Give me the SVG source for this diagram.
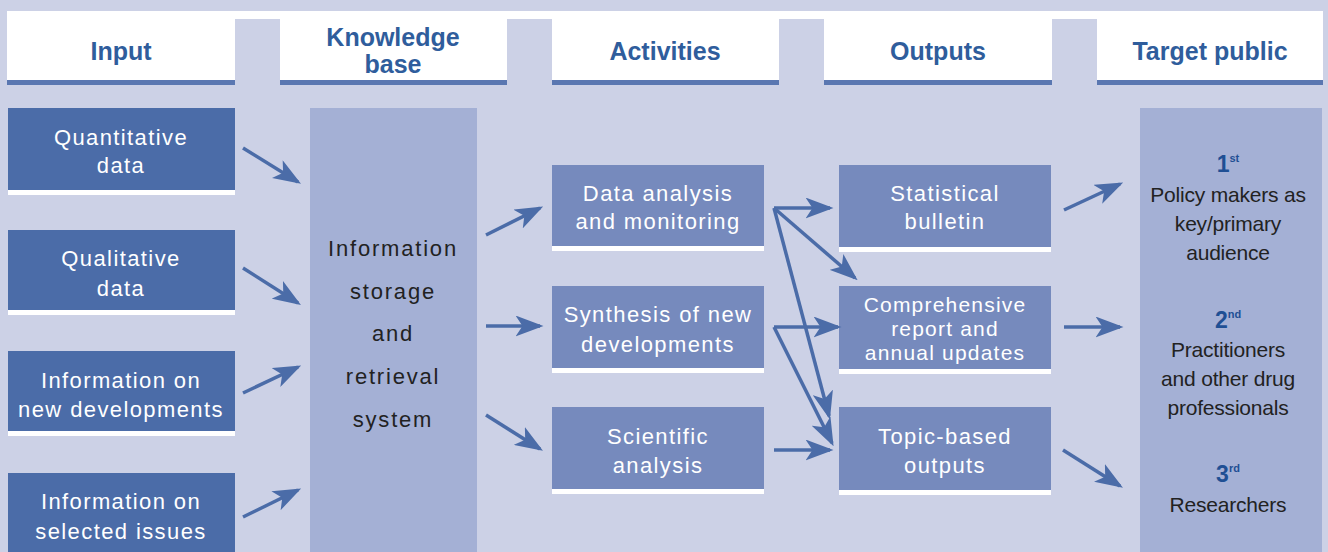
<svg xmlns="http://www.w3.org/2000/svg" width="1328" height="552" viewBox="0 0 1328 552">
<defs>
<style>
.hdr{fill:#fff}
.stripe{fill:#5a77b1}
.ht{font-family:"Liberation Sans",Arial,sans-serif;font-weight:bold;font-size:25px;fill:#2f5d9c;text-anchor:middle}
.inbox{fill:#4b6ca8}
.midbox{fill:#768abd}
.light{fill:#a4b0d5}
.ws{fill:#fff}
.bt{font-family:"Liberation Sans",Arial,sans-serif;font-size:22px;fill:#fff;text-anchor:middle;letter-spacing:1.4px}
.bs{font-size:21px;letter-spacing:1.2px}
.kt{font-family:"Liberation Sans",Arial,sans-serif;font-size:22px;fill:#222;text-anchor:middle;letter-spacing:1.8px}
.tt{font-family:"Liberation Sans",Arial,sans-serif;font-size:21px;fill:#222;text-anchor:middle;letter-spacing:-0.2px}
.rank{font-family:"Liberation Sans",Arial,sans-serif;font-weight:bold;font-size:23px;fill:#1f4f94;text-anchor:middle}
.sup{font-size:11px}
.conn line{stroke:#4b6ca8;stroke-width:3.5;fill:none;marker-end:url(#ah)}
</style>
<marker id="ah" markerWidth="8" markerHeight="6" refX="7" refY="3" orient="auto" markerUnits="strokeWidth" viewBox="0 0 8 6">
<path d="M0,0 L8,3 L0,6 L2,3 z" fill="#4b6ca8"/>
</marker>
</defs>
<rect width="1328" height="552" fill="#ccd1e6"/>
<g id="headers">
<rect x="7" y="11" width="1316" height="8" class="hdr"/>
<rect x="7" y="11" width="228" height="70" class="hdr"/><rect x="7" y="80" width="228" height="5" class="stripe"/>
<rect x="280" y="11" width="227" height="70" class="hdr"/><rect x="280" y="80" width="227" height="5" class="stripe"/>
<rect x="552" y="11" width="227" height="70" class="hdr"/><rect x="552" y="80" width="227" height="5" class="stripe"/>
<rect x="824" y="11" width="228" height="70" class="hdr"/><rect x="824" y="80" width="228" height="5" class="stripe"/>
<rect x="1097" y="11" width="226" height="70" class="hdr"/><rect x="1097" y="80" width="226" height="5" class="stripe"/>
<text x="121" y="60" class="ht">Input</text>
<text x="393" y="46" class="ht">Knowledge</text>
<text x="393" y="73" class="ht">base</text>
<text x="665" y="60" class="ht">Activities</text>
<text x="938" y="60" class="ht">Outputs</text>
<text x="1210" y="60" class="ht">Target public</text>
</g>
<g id="quantitative">
<rect x="8" y="108" width="227" height="82" class="inbox"/><rect x="8" y="190" width="227" height="5" class="ws"/>
<text x="121" y="145" class="bt">Quantitative</text><text x="121" y="173" class="bt">data</text>
</g>
<g id="qualitative">
<rect x="8" y="230" width="227" height="80" class="inbox"/><rect x="8" y="310" width="227" height="5" class="ws"/>
<text x="121" y="266" class="bt">Qualitative</text><text x="121" y="296" class="bt">data</text>
</g>
<g id="info-new">
<rect x="8" y="351" width="227" height="80" class="inbox"/><rect x="8" y="431" width="227" height="5" class="ws"/>
<text x="121" y="388" class="bt">Information on</text><text x="121" y="417" class="bt">new developments</text>
</g>
<g id="info-selected">
<rect x="8" y="473" width="227" height="79" class="inbox"/>
<text x="121" y="509" class="bt">Information on</text><text x="121" y="539" class="bt">selected issues</text>
</g>
<g id="knowledge">
<rect x="310" y="108" width="167" height="444" class="light"/>
<text x="393" y="256" class="kt">Information</text>
<text x="393" y="299" class="kt">storage</text>
<text x="393" y="341" class="kt">and</text>
<text x="393" y="384" class="kt">retrieval</text>
<text x="393" y="427" class="kt">system</text>
</g>
<g id="data-analysis">
<rect x="552" y="165" width="212" height="81" class="midbox"/><rect x="552" y="246" width="212" height="5" class="ws"/>
<text x="658" y="201" class="bt">Data analysis</text><text x="658" y="229" class="bt">and monitoring</text>
</g>
<g id="synthesis">
<rect x="552" y="286" width="212" height="82" class="midbox"/><rect x="552" y="368" width="212" height="5" class="ws"/>
<text x="658" y="322" class="bt">Synthesis of new</text><text x="658" y="352" class="bt">developments</text>
</g>
<g id="scientific">
<rect x="552" y="407" width="212" height="82" class="midbox"/><rect x="552" y="489" width="212" height="5" class="ws"/>
<text x="658" y="444" class="bt">Scientific</text><text x="658" y="473" class="bt">analysis</text>
</g>
<g id="statistical">
<rect x="839" y="165" width="212" height="82" class="midbox"/><rect x="839" y="247" width="212" height="5" class="ws"/>
<text x="945" y="201" class="bt">Statistical</text><text x="945" y="229" class="bt">bulletin</text>
</g>
<g id="comprehensive">
<rect x="839" y="286" width="212" height="83" class="midbox"/><rect x="839" y="369" width="212" height="5" class="ws"/>
<text x="945" y="312" class="bt bs">Comprehensive</text><text x="945" y="336" class="bt bs">report and</text><text x="945" y="360" class="bt bs">annual updates</text>
</g>
<g id="topic">
<rect x="839" y="407" width="212" height="83" class="midbox"/><rect x="839" y="490" width="212" height="5" class="ws"/>
<text x="945" y="444" class="bt">Topic-based</text><text x="945" y="473" class="bt">outputs</text>
</g>
<g id="target">
<rect x="1140" y="108" width="182" height="444" class="light"/>
<text x="1228" y="172" class="rank">1<tspan class="sup" dy="-10">st</tspan></text>
<text x="1228" y="202" class="tt">Policy makers as</text>
<text x="1228" y="231" class="tt">key/primary</text>
<text x="1228" y="260" class="tt">audience</text>
<text x="1228" y="328" class="rank">2<tspan class="sup" dy="-10">nd</tspan></text>
<text x="1228" y="357" class="tt">Practitioners</text>
<text x="1228" y="386" class="tt">and other drug</text>
<text x="1228" y="415" class="tt">professionals</text>
<text x="1228" y="482" class="rank">3<tspan class="sup" dy="-10">rd</tspan></text>
<text x="1228" y="512" class="tt">Researchers</text>
</g>
<g id="connectors" class="conn">
<line x1="243" y1="148" x2="298" y2="182"/>
<line x1="243" y1="268" x2="298" y2="303"/>
<line x1="243" y1="393" x2="298" y2="367"/>
<line x1="243" y1="517" x2="298" y2="490"/>
<line x1="486" y1="235" x2="540" y2="208"/>
<line x1="486" y1="326" x2="540" y2="326"/>
<line x1="486" y1="415" x2="540" y2="449"/>
<line x1="774" y1="208" x2="830" y2="208"/>
<line x1="774" y1="208" x2="855" y2="278"/>
<line x1="774" y1="208" x2="829" y2="416"/>
<line x1="774" y1="327" x2="838" y2="327"/>
<line x1="774" y1="327" x2="832" y2="443"/>
<line x1="774" y1="450" x2="830" y2="450"/>
<line x1="1064" y1="210" x2="1120" y2="184"/>
<line x1="1064" y1="327" x2="1120" y2="327"/>
<line x1="1063" y1="450" x2="1120" y2="486"/>
</g>
</svg>
